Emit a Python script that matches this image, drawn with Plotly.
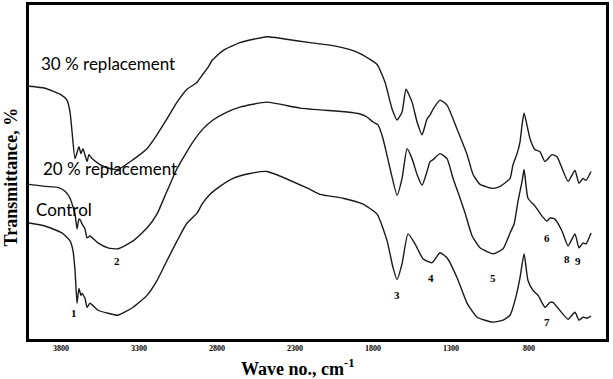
import plotly.graph_objects as go

# 30 % replacement
wn_30 = [4005, 3903, 3806, 3762, 3742, 3729, 3710, 3685, 3672, 3659, 3633, 3621, 3601, 3550, 3486, 3435, 3338,
         3249, 3185, 3121, 3056, 2992, 2954, 2928, 2896, 2858, 2832, 2762, 2653, 2480, 2377, 2204, 2056, 1947, 1883,
         1839, 1774, 1723, 1678, 1646, 1614, 1589, 1550, 1518, 1486, 1454, 1435, 1415, 1371, 1326, 1262, 1197, 1159,
         1114, 1031, 986, 922, 903, 877, 858, 845, 832, 794, 762, 730, 698, 653, 621, 550, 506, 480, 454, 435, 403]
t_30 = [255, 253, 247, 241, 229, 209, 182, 194, 187, 192, 179, 186, 182, 176, 172, 171, 181,
        192, 206, 222, 239, 252, 256, 259, 266, 274, 281, 291, 299, 305, 303, 299, 296, 292, 288,
        284, 277, 259, 232, 221, 229, 252, 239, 219, 206, 222, 226, 232, 241, 236, 212, 186, 166,
        156, 152, 154, 162, 176, 187, 199, 216, 228, 202, 191, 189, 179, 186, 184, 159, 170, 157, 162, 160, 169]

# 20 % replacement
wn_20 = [4005, 3903, 3819, 3774, 3742, 3710, 3697, 3685, 3672, 3665, 3646, 3633, 3614, 3563, 3499, 3435, 3338, 3249,
         3185, 3121, 3056, 2954, 2890, 2826, 2736, 2653, 2480, 2268, 1967, 1883, 1839, 1800, 1768, 1736, 1691, 1646,
         1614, 1582, 1550, 1518, 1486, 1454, 1435, 1415, 1371, 1326, 1287, 1242, 1210, 1165, 1114, 1031, 967, 922,
         896, 871, 845, 832, 807, 762, 717, 685, 666, 634, 589, 550, 506, 480, 454, 435, 403]
t_20 = [156, 154, 153, 149, 142, 126, 111, 121, 119, 116, 111, 102, 104, 97, 92, 91, 99, 112,
        126, 149, 172, 199, 212, 221, 229, 234, 239, 233, 229, 227, 224, 219, 216, 202, 172, 145,
        162, 192, 182, 166, 155, 169, 179, 181, 187, 182, 162, 142, 127, 104, 92, 86, 91, 107,
        116, 139, 159, 171, 142, 134, 124, 119, 122, 121, 109, 94, 106, 92, 97, 96, 107]

# Control
wn_c = [4005, 3903, 3794, 3742, 3723, 3710, 3697, 3685, 3672, 3665, 3646, 3633, 3614, 3563, 3499, 3435, 3338, 3249,
        3185, 3121, 3056, 2992, 2928, 2896, 2845, 2781, 2697, 2589, 2480, 2204, 2140, 1992, 1864, 1774, 1710, 1672,
        1646, 1614, 1576, 1531, 1480, 1422, 1371, 1326, 1262, 1197, 1133, 1031, 967, 922, 890, 858, 832, 807, 775,
        742, 698, 666, 647, 550, 506, 480, 454, 429, 403]
t_c = [117, 114, 107, 99, 89, 69, 36, 51, 44, 46, 41, 32, 36, 29, 26, 24, 32, 44,
       59, 79, 99, 117, 127, 136, 146, 154, 162, 167, 169, 151, 146, 142, 136, 126, 99, 72,
       60, 76, 106, 96, 81, 77, 87, 82, 62, 36, 22, 17, 19, 24, 39, 62, 86, 59, 49,
       44, 32, 37, 37, 20, 27, 19, 22, 21, 23]

tick_vals = [3800, 3300, 2800, 2300, 1800, 1300, 800, 300]
tick_text = ["3800", "3300", "2800", "2300", "1800", "1300", "800", "300"]

band_labels = ["1", "2", "3", "4", "5", "6", "7", "8", "9"]
band_wn = [3717, 3441, 1646, 1428, 1031, 685, 685, 557, 486]
band_t = [26, 79, 44, 62, 62, 102, 17, 81, 79]

series_names = ["30 % replacement", "20 % replacement", "Control"]
series_wn = [wn_30, wn_20, wn_c]
series_t = [t_30, t_20, t_c]
name_wn = [3940, 3927, 3970]
name_t = [278, 172, 131]

fig = go.Figure()
for name, xs, ys in zip(series_names, series_wn, series_t):
    fig.add_trace(go.Scatter(x=xs, y=ys, mode="lines", name=name,
                             line=dict(color="#1a1a1a", width=1.4, shape="spline", smoothing=0.5),
                             hoverinfo="skip"))

for lab, x, y in zip(band_labels, band_wn, band_t):
    fig.add_annotation(x=x, y=y, text="<b>" + lab + "</b>", showarrow=False,
                       font=dict(family="Liberation Serif", size=11, color="black"))

for name, x, y in zip(series_names, name_wn, name_t):
    fig.add_annotation(x=x, y=y, text=name, showarrow=False, xanchor="left",
                       font=dict(family="Lato", size=17, color="black"))

fig.add_annotation(xref="paper", yref="paper", x=0.466, y=-0.085, xanchor="center", yanchor="middle",
                   text="<b>Wave no., cm<sup>-1</sup></b>",
                   showarrow=False, font=dict(family="Liberation Serif", size=18, color="black"))
fig.add_annotation(xref="paper", yref="paper", x=-0.031, y=0.484, xanchor="center", yanchor="middle",
                   text="<b>Transmittance, %</b>",
                   textangle=-90, showarrow=False, font=dict(family="Liberation Serif", size=18, color="black"))

fig.update_layout(
    width=613, height=379,
    margin=dict(l=29, r=7, t=2, b=40),
    paper_bgcolor="white", plot_bgcolor="white",
    showlegend=False,
    xaxis=dict(range=[4005, 307], tickvals=tick_vals, ticktext=tick_text, showgrid=False, zeroline=False,
               showline=True, linecolor="black", linewidth=2.5, mirror=True, ticks="",
               tickfont=dict(family="Liberation Serif", size=8, color="black", weight="bold")),
    yaxis=dict(range=[0, 337], showticklabels=False, showgrid=False, zeroline=False,
               showline=True, linecolor="black", linewidth=2.5, mirror=True, ticks=""),
)

fig.write_html("out.html")
